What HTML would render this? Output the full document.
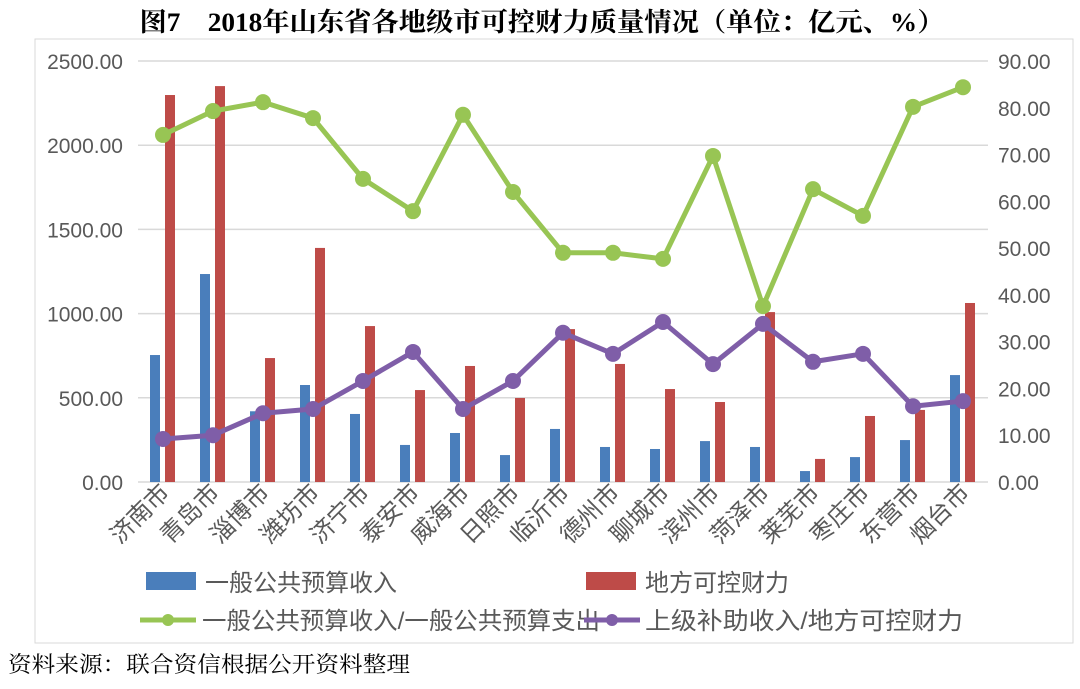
<!DOCTYPE html>
<html><head><meta charset="utf-8">
<style>
body{margin:0;background:#fff;width:1080px;height:684px;overflow:hidden;font-family:"Liberation Sans","Noto Sans CJK SC",sans-serif;}
svg text{font-family:"Liberation Sans","Noto Sans CJK SC",sans-serif;}
</style></head>
<body>
<svg id="chart" width="1080" height="684" xmlns="http://www.w3.org/2000/svg">
<text x="542" y="31" text-anchor="middle" font-size="26" font-weight="bold" fill="#000" style="font-family:'Liberation Serif','Noto Serif CJK SC',serif" textLength="805" lengthAdjust="spacingAndGlyphs">图7　2018年山东省各地级市可控财力质量情况（单位：亿元、%）</text>
<rect x="35" y="39" width="1038" height="604" fill="none" stroke="#d9d9d9" stroke-width="1"/>
<g id="grid"></g><g id="bars"></g><g id="lines"></g><g id="axes"></g>
<g>
<rect x="146" y="572" width="50" height="18" fill="#4a7ebb"/>
<text x="205" y="591" font-size="24" fill="#595959">一般公共预算收入</text>
<rect x="586" y="572" width="50" height="18" fill="#be4b48"/>
<text x="645" y="591" font-size="24" fill="#595959">地方可控财力</text>
<line x1="140" y1="620" x2="196" y2="620" stroke="#98c554" stroke-width="5"/>
<circle cx="168" cy="620" r="6" fill="#98c554"/>
<text x="202" y="629" font-size="24" fill="#595959" textLength="398" lengthAdjust="spacingAndGlyphs">一般公共预算收入/一般公共预算支出</text>
<line x1="584" y1="620" x2="640" y2="620" stroke="#7f5ea8" stroke-width="5"/>
<circle cx="612" cy="620" r="6" fill="#7f5ea8"/>
<text x="645" y="629" font-size="24" fill="#595959" textLength="318" lengthAdjust="spacingAndGlyphs">上级补助收入/地方可控财力</text>
</g>
<text x="8" y="672" font-size="22" fill="#000" style="font-family:'Liberation Serif','Noto Serif CJK SC',serif" textLength="402" lengthAdjust="spacingAndGlyphs">资料来源：联合资信根据公开资料整理</text>
</svg>
<script>
const categories=["济南市","青岛市","淄博市","潍坊市","济宁市","泰安市","威海市","日照市","临沂市","德州市","聊城市","滨州市","菏泽市","莱芜市","枣庄市","东营市","烟台市"];
const revenue=[754,1235,420,576,404,220,291,160,315,208,196,243,208,65,148,249,635];
const controllable=[2298,2351,736,1390,926,546,689,499,908,701,552,475,1009,137,392,428,1063];
const ratioGreen=[74.2,79.3,81.2,77.8,64.8,57.9,78.5,62.0,49.0,49.0,47.7,69.7,37.6,62.6,56.9,80.2,84.4];
const ratioPurple=[9.2,10.0,14.7,15.6,21.6,27.8,15.6,21.6,31.9,27.4,34.2,25.2,33.8,25.7,27.4,16.2,17.3];
const leftTicks=["0.00","500.00","1000.00","1500.00","2000.00","2500.00"];
const rightTicks=["0.00","10.00","20.00","30.00","40.00","50.00","60.00","70.00","80.00","90.00"];
const NS="http://www.w3.org/2000/svg";
const X0=138,X1=988,Y0=482,Y1=61;
const band=(X1-X0)/categories.length;
const xc=i=>X0+band*(i+0.5);
const yl=v=>Y0-(v/2500)*(Y0-Y1);
const yr=v=>Y0-(v/90)*(Y0-Y1);
function mk(tag,attrs,parent){const e=document.createElementNS(NS,tag);for(const k in attrs)e.setAttribute(k,attrs[k]);document.getElementById(parent).appendChild(e);return e;}
leftTicks.forEach((t,i)=>{const v=i*500;
 const g=mk('line',{x1:X0,x2:X1,y1:yl(v),y2:yl(v),stroke:'#d9d9d9','stroke-width':1.5},'grid');
 
 
 const tx=mk('text',{x:123,y:yl(v)+8,'text-anchor':'end','font-size':21,fill:'#595959'},'axes');tx.textContent=t;
 
 
});
rightTicks.forEach((t,i)=>{const v=i*10;
 const tx=mk('text',{x:998,y:yr(v)+8,'font-size':21,fill:'#595959'},'axes');tx.textContent=t;
 
 
});
categories.forEach((c,i)=>{
 const b=mk('rect',{x:xc(i)-13,y:yl(revenue[i]),width:10,height:Y0-yl(revenue[i]),fill:'#4a7ebb'},'bars');
 
 
 const r=mk('rect',{x:xc(i)+2,y:yl(controllable[i]),width:10,height:Y0-yl(controllable[i]),fill:'#be4b48'},'bars');
 
 
 const cx=xc(i)+8,cy=494;
 const tx=mk('text',{x:cx,y:cy,'text-anchor':'end','font-size':24,fill:'#595959',transform:`rotate(-45 ${cx} ${cy})`},'axes');tx.textContent=c;
 
 
});
function series(vals,color,name){
 const p=mk('polyline',{points:vals.map((v,i)=>xc(i)+','+yr(v)).join(' '),fill:'none',stroke:color,'stroke-width':5,'stroke-linejoin':'round'},'lines');
 
 
 vals.forEach((v,i)=>{const c=mk('circle',{cx:xc(i),cy:yr(v),r:8,fill:color},'lines');
  
  });
}
series(ratioGreen,'#98c554','green-ratio');
series(ratioPurple,'#7f5ea8','purple-ratio');
</script>
</body></html>
